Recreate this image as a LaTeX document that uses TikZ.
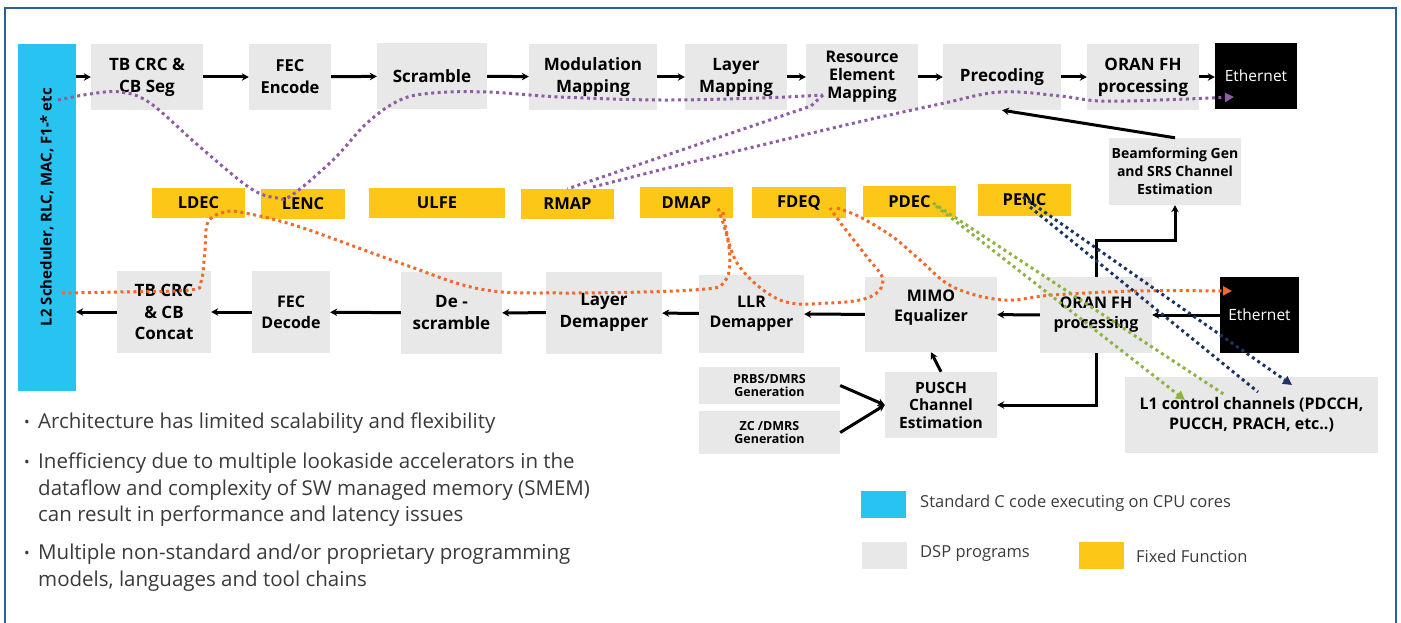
\documentclass[tikz,border=0pt]{standalone}
\usepackage{fontspec}
\setmainfont{Open Sans}
\usetikzlibrary{arrows.meta}
\definecolor{cpu}{HTML}{29C3F2}
\definecolor{dsp}{HTML}{E8E8E8}
\definecolor{ff}{HTML}{FCC716}
\definecolor{pflow}{HTML}{8E5DA4}
\definecolor{oflow}{HTML}{F26A2A}
\definecolor{gflow}{HTML}{8DB43F}
\definecolor{nflow}{HTML}{1C3363}
\definecolor{framec}{HTML}{2C5E9E}
\definecolor{txt}{HTML}{3A3A3A}
\begin{document}
\begin{tikzpicture}[x=1pt,y=-1pt,
  box/.style={inner sep=0pt, align=center, text=black, font=\fontsize{17}{22}\selectfont\bfseries},
  gbox/.style={box, fill=dsp},
  ybox/.style={box, fill=ff, font=\fontsize{16.5}{20}\selectfont\bfseries},
  ebox/.style={box, fill=black, text=white, font=\fontsize{15.5}{18}\selectfont},
  sz/.style 2 args={minimum width=#1pt, minimum height=#2pt},
  arr/.style={line width=3pt, -{Stealth[length=7pt,width=7.5pt]}},
  flow/.style={line width=3pt, dash pattern=on 3pt off 3.5pt},
  legtxt/.style={anchor=west, inner sep=0pt, text=txt, font=\fontsize{16.5}{19}\selectfont},
  bul/.style={anchor=north west, inner sep=0pt, align=left, text=txt, font=\fontsize{20.5}{26.5}\selectfont},
  dot/.style={inner sep=0pt, text=txt, font=\fontsize{15}{15}\selectfont}
]
\useasboundingbox (0,0) rectangle (1401,623);
% frame
\draw[framec, line width=1.5pt] (5,623) -- (5,8) -- (1396,8) -- (1396,623);

% L2 bar
\node[box, fill=cpu, sz={58}{347}] (l2) at (47,217.5) {};
\node[box, rotate=90, font=\fontsize{15}{18}\selectfont\bfseries] (l2t) at (47,207) {L2 Scheduler, RLC, MAC, F1-* etc};

% top row
\node[gbox, sz={112}{66}] (tbcrc) at (147,77) {TB CRC \&\\CB Seg};
\node[gbox, sz={82}{66}, font=\fontsize{16.5}{22}\selectfont\bfseries] (fecenc) at (290,77) {FEC\\Encode};
\node[gbox, sz={110}{66}] (scr) at (432,76) {Scramble};
\node[gbox, sz={128}{66}] (modm) at (593,77) {Modulation\\Mapping};
\node[gbox, sz={102}{66}] (laym) at (736,77) {Layer\\Mapping};
\node[gbox, sz={112}{66}, font=\fontsize{16}{18}\selectfont\bfseries] (rem) at (862,77) {Resource\\Element\\Mapping};
\node[gbox, sz={118}{66}] (prec) at (1002,77) {Precoding};
\node[gbox, sz={112}{66}] (oran1) at (1143,77) {ORAN FH\\processing};
\node[ebox, sz={82}{66}] (eth1) at (1256,76) {Ethernet};

\node[gbox, sz={132}{67}, font=\fontsize{14}{18}\selectfont\bfseries] (beam) at (1175,171.5) {Beamforming Gen\\and SRS Channel\\Estimation};

% fixed function
\node[ybox, sz={93}{30}] (ldec) at (198.5,203) {LDEC};
\node[ybox, sz={84}{30}] (lenc) at (303,204) {LENC};
\node[ybox, sz={136}{30}] (ulfe) at (437,203) {ULFE};
\node[ybox, sz={93}{30}] (rmap) at (567.5,204) {RMAP};
\node[ybox, sz={93}{31}] (dmap) at (686.5,202.5) {DMAP};
\node[ybox, sz={94}{31}] (fdeq) at (799,202.5) {FDEQ};
\node[ybox, sz={93}{31}] (pdec) at (909.5,201.5) {PDEC};
\node[ybox, sz={93}{32}] (penc) at (1024.5,200) {PENC};

% bottom row
\node[gbox, sz={94}{82}, font=\fontsize{17}{21.5}\selectfont\bfseries] (tbcc) at (164,312) {TB CRC\\\& CB\\Concat};
\node[gbox, sz={78}{82}, font=\fontsize{16}{21}\selectfont\bfseries] (fecdec) at (291,312) {FEC\\Decode};
\node[gbox, sz={101}{82}] (desc) at (451.5,313) {De -\\scramble};
\node[gbox, sz={116}{82}] (laydm) at (604,312.5) {Layer\\Demapper};
\node[gbox, sz={105}{78}, font=\fontsize{16}{20}\selectfont\bfseries] (llr) at (751.5,314) {LLR\\Demapper};
\node[gbox, sz={132}{75}, font=\fontsize{16}{20}\selectfont\bfseries, text depth=17pt] (mimo) at (931,314.5) {MIMO\\Equalizer};
\node[gbox, sz={112}{76}, font=\fontsize{16}{20}\selectfont\bfseries] (oran2) at (1096,315) {ORAN FH\\processing};
\node[ebox, sz={79}{76}] (eth2) at (1259.5,315) {Ethernet};
\node[gbox, sz={253}{76}, font=\fontsize{16}{20}\selectfont\bfseries] (l1) at (1251.5,415) {L1 control channels (PDCCH,\\PUCCH, PRACH, etc..)};
\node[gbox, sz={112}{66}, font=\fontsize{15.5}{17.5}\selectfont\bfseries] (pusch) at (941,405) {PUSCH\\Channel\\Estimation};
\node[gbox, sz={141}{37}, font=\fontsize{12.5}{13.5}\selectfont\bfseries] (prbs) at (769.5,385.5) {PRBS/DMRS\\Generation};
\node[gbox, sz={141}{43}, font=\fontsize{12.5}{13.5}\selectfont\bfseries] (zc) at (769.5,432.5) {ZC /DMRS\\Generation};

% top row arrows
\draw[arr] (l2.east |- tbcrc.west) -- (tbcrc.west);
\draw[arr] (tbcrc) -- (fecenc);
\draw[arr] (fecenc) -- (scr);
\draw[arr] (scr) -- (modm);
\draw[arr] (modm) -- (laym);
\draw[arr] (laym) -- (rem);
\draw[arr] (rem) -- (prec);
\draw[arr] (prec) -- (oran1);
\draw[arr] (oran1) -- (eth1.west |- oran1.east);
\draw[arr] (beam.north) -- (prec.south);

% bottom row arrows
\draw[arr] (tbcc.west) -- (tbcc.west -| l2.east);
\draw[arr] (fecdec) -- (tbcc);
\draw[arr] (desc) -- (fecdec);
\draw[arr] (laydm) -- (desc);
\draw[arr] (llr) -- (laydm);
\draw[arr] (mimo) -- (llr);
\draw[arr] (oran2) -- (mimo);
\draw[arr] (eth2) -- (oran2);
\draw[arr] (oran2.north) -- ++(0,-36) -| (beam.south);
\draw[arr] (oran2.south) |- (pusch.east);
\draw[arr] (pusch.north) -- (mimo.south);
\draw[arr] (prbs.east) -- (pusch.west);
\draw[arr] (zc.east) -- (pusch.west);

% purple flow
\draw[flow, pflow] plot[smooth, tension=0.6] coordinates {(58,100) (90,94) (120,92) (150,103) (200,147) (250,188) (277,198) (292,195) (333,160) (367,123) (400,100) (433,93) (487,92) (560,97) (660,100) (760,98) (823,95)};
\draw[flow, pflow] (823,95) -- (811,106) -- (rmap.north);
\draw[flow, pflow, -{Triangle[length=9pt,width=9pt]}] plot[smooth, tension=0.6] coordinates {(593,187) (700,160) (850,124) (940,104) (1000,92) (1060,96) (1100,101) (1160,100) (1234,97)};

% orange flow
\draw[flow, oflow] plot[smooth, tension=0.6] coordinates {(62,293) (120,292) (190,290) (201,282) (205,250) (208,222) (225,212) (245,213) (300,227) (400,263) (480,289) (560,293) (693,290) (725,281) (729,247) (718,208)};
\draw[flow, oflow] plot[smooth, tension=0.6] coordinates {(723,212) (737,263) (780,300) (830,303) (870,297) (883,280) (867,257) (842,225) (830,208)};
\draw[flow, oflow, -{Triangle[length=9pt,width=9pt]}] plot[smooth, tension=0.6] coordinates {(837,208) (860,217) (893,237) (920,260) (953,287) (1003,300) (1053,295) (1137,291) (1232,291)};

% green flow
\draw[flow, gflow, -{Triangle[length=9pt,width=9pt]}] (936,206) -- (1185,400);
\draw[flow, gflow] (933,203) -- (1225,395);

% navy flow
\draw[flow, nflow, -{Triangle[length=9pt,width=9pt]}] (1023,197) -- (1292,385);
\draw[flow, nflow] (1030,207) -- (1258,392);

% bullets
\node[dot] (b1) at (27,424) {•};
\node[bul] (t1) at (38,413) {Architecture has limited scalability and flexibility};
\node[dot] (b2) at (27,464) {•};
\node[bul] (t2) at (38,453) {Inefficiency due to multiple lookaside accelerators in the\\dataflow and complexity of SW managed memory (SMEM)\\can result in performance and latency issues};
\node[dot] (b3) at (27,555) {•};
\node[bul] (t3) at (38,544) {Multiple non-standard and/or proprietary programming\\models, languages and tool chains};

% legend
\node[box, fill=cpu, sz={45}{27}] (lg1) at (883.5,504.5) {};
\node[legtxt] (lt1) at (920,503) {Standard C code executing on CPU cores};
\node[box, fill=dsp, sz={45}{27}] (lg2) at (884.5,555.5) {};
\node[legtxt] (lt2) at (920,554) {DSP programs};
\node[box, fill=ff, sz={45}{27}] (lg3) at (1101.5,555.5) {};
\node[legtxt] (lt3) at (1136,556) {Fixed Function};
\end{tikzpicture}
\end{document}
